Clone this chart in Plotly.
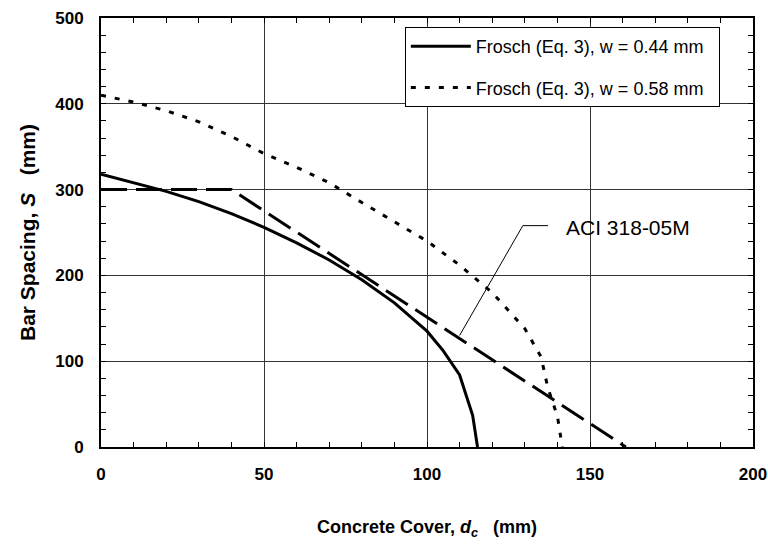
import plotly.graph_objects as go

# Frosch (Eq. 3), w = 0.44 mm
cover_044 = [0, 10, 20, 30, 40, 50, 60, 70, 80, 90, 100, 105, 110, 114, 115.5]
spacing_044 = [318, 308, 298, 286, 272, 256, 238, 218, 195, 168, 135, 112, 84, 37, 0]

# Frosch (Eq. 3), w = 0.58 mm
cover_058 = [0, 10, 20, 30, 40, 50, 60, 70, 80, 90, 100, 110, 120, 130, 135, 137, 140, 141.5]
spacing_058 = [410, 402, 392, 379, 362, 342, 326, 308, 285, 263, 240, 212, 180, 138, 105, 70, 36, 0]

# ACI 318-05M
cover_aci = [0, 40, 161]
spacing_aci = [300, 300, 0]

font_family = "Liberation Sans, Arial, sans-serif"

fig = go.Figure()
fig.add_trace(go.Scatter(x=cover_044, y=spacing_044, mode="lines",
                         name="Frosch (Eq. 3), w = 0.44 mm  ", legendgroup="a",
                         line=dict(color="black", width=3)))
fig.add_trace(go.Scatter(x=cover_058, y=spacing_058, mode="lines",
                         name="Frosch (Eq. 3), w = 0.58 mm  ", legendgroup="b",
                         line=dict(color="black", width=3, dash="5px,9px")))
fig.add_trace(go.Scatter(x=cover_aci, y=spacing_aci, mode="lines",
                         name="ACI 318-05M", showlegend=False,
                         line=dict(color="black", width=3, dash="26px,9px")))

# leader line for ACI annotation
fig.add_trace(go.Scatter(x=[110, 129.4, 137.1], y=[130, 258, 258], mode="lines",
                         showlegend=False, hoverinfo="skip",
                         line=dict(color="black", width=1)))
fig.add_annotation(x=142.0, y=256, text="ACI 318-05M", showarrow=False,
                   xanchor="left", yanchor="middle",
                   font=dict(family=font_family, size=21, color="black"))

axis_common = dict(
    showline=True, linecolor="black", linewidth=2, mirror="ticks",
    ticks="inside", ticklen=5, tickcolor="black", tickwidth=1,
    showgrid=True, gridcolor="#333333", gridwidth=1,
    zeroline=False, automargin=False, ticklabeloverflow="allow",
    tickfont=dict(family=font_family, size=17, color="black", weight="bold"),
)

fig.update_xaxes(
    range=[0, 200], tick0=0, dtick=50,
    minor=dict(dtick=10, ticks="inside", ticklen=5, tickcolor="black", showgrid=False),
    ticklabelstandoff=11,
    title=dict(text="<b>Concrete Cover, <i>d<sub>c</sub></i>   (mm)</b>",
               font=dict(family=font_family, size=18, color="black"), standoff=37),
    **axis_common,
)
fig.update_yaxes(
    range=[0, 500], tick0=0, dtick=100,
    minor=dict(dtick=20, ticks="inside", ticklen=5, tickcolor="black", showgrid=False),
    ticklabelstandoff=12,
    title=dict(text="<b>Bar Spacing, <i>S</i>   (mm)</b>",
               font=dict(family=font_family, size=21, color="black"), standoff=14),
    **axis_common,
)

fig.update_layout(
    width=768, height=545,
    margin=dict(l=101, r=15, t=18, b=98),
    paper_bgcolor="white", plot_bgcolor="white",
    font=dict(family=font_family, color="black"),
    legend=dict(x=0.466, y=0.979, xanchor="left", yanchor="top",
                bgcolor="white", bordercolor="black", borderwidth=1,
                font=dict(family=font_family, size=18, color="black"),
                itemwidth=60, tracegroupgap=15),
)

fig.write_html("out.html", config={"displayModeBar": False},
               post_script="document.body.style.margin='0px';document.body.style.overflow='hidden';")
